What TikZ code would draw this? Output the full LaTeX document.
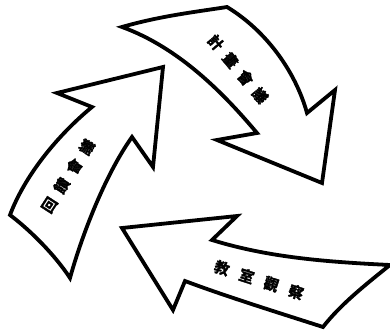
\documentclass[tikz,border=0pt]{standalone}
\usepackage{fontspec}
\newfontfamily\cjk[FakeBold=1.8]{Noto Sans CJK TC Bold}
\begin{document}
\begin{tikzpicture}[x=1pt,y=-1pt,
  arrowshape/.style={draw=black,line width=3.8pt,line join=miter,fill=white},
  label/.style={font=\cjk\fontsize{15pt}{15pt}\selectfont,inner sep=0pt}]
\useasboundingbox (0,0) rectangle (390,329);
% top arrow
\draw[arrowshape] (122,27) .. controls (160,16) and (195,12) .. (227,7)
  .. controls (265,30) and (295,70) .. (307,113)
  -- (335,90) -- (322,183) -- (217,140) -- (257,133)
  .. controls (225,95) and (180,48) .. cycle;
% left arrow
\draw[arrowshape] (163,67) -- (57,93) -- (92,107)
  .. controls (58,135) and (25,175) .. (10,215)
  .. controls (30,230) and (55,255) .. (70,278)
  .. controls (82,235) and (105,175) .. (132,137)
  -- (153,167) -- cycle;
% bottom arrow
\draw[arrowshape] (122,228) -- (237,216) -- (212,240)
  .. controls (270,258) and (330,262) .. (390,265)
  .. controls (365,285) and (340,305) .. (323,327)
  .. controls (270,310) and (225,296) .. (185,281)
  -- (173,310) -- cycle;
\node[label,rotate=-50] (plan) at (238,69) {計\hspace{8pt}畫\hspace{8pt}會\hspace{8pt}議};
\node[label,rotate=57] (feedback) at (68,176) {回\hspace{8pt}饋\hspace{8pt}會\hspace{8pt}議};
\node[label,rotate=-18] (observe) at (259,280) {教\hspace{11pt}室\hspace{11pt}觀\hspace{11pt}察};
\end{tikzpicture}
\end{document}
